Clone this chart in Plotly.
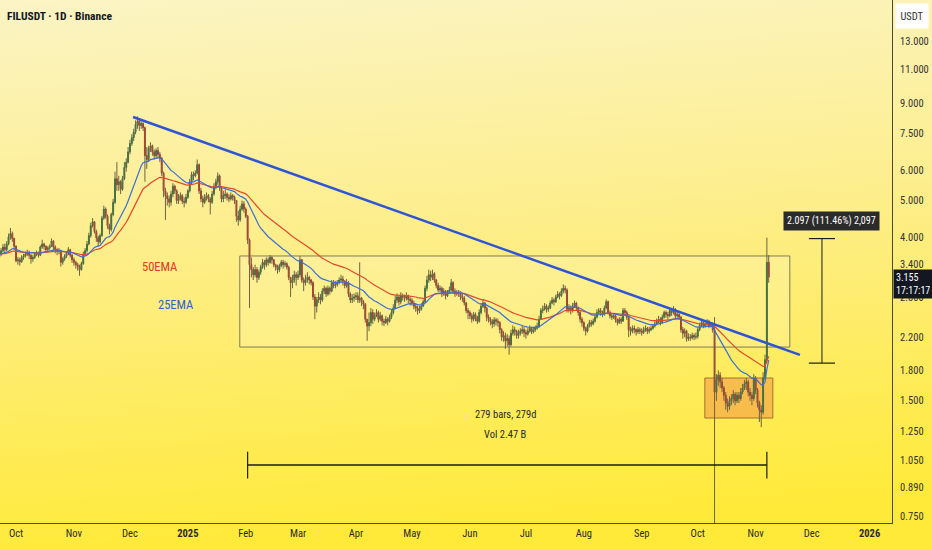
import math
import base64
import pandas as pd
import plotly.graph_objects as go

# ---------------- DATA (daily FILUSDT candles) ----------------
first_open = 3.55

close_2024_09 = [3.62, 3.70, 3.78, 3.72, 3.85, 4.02, 4.10, 3.98, 3.80]
high_2024_09 = [3.70, 3.76, 3.85, 3.86, 3.92, 4.10, 4.24, 4.15, 4.00]
low_2024_09 = [3.52, 3.58, 3.66, 3.62, 3.68, 3.82, 3.95, 3.90, 3.72]

close_2024_10 = [3.48, 3.50, 3.46, 3.55, 3.58, 3.62, 3.66, 3.60, 3.52, 3.55,
                 3.62, 3.66, 3.60, 3.78, 3.85, 3.80, 3.72, 3.76, 3.80, 3.92,
                 3.78, 3.72, 3.68, 3.70, 3.45, 3.52, 3.58, 3.64, 3.72, 3.60, 3.50]
high_2024_10 = [3.82, 3.56, 3.55, 3.60, 3.63, 3.68, 3.72, 3.70, 3.62, 3.60,
                3.66, 3.70, 3.68, 3.82, 3.95, 3.88, 3.82, 3.80, 3.84, 3.98,
                3.94, 3.82, 3.75, 3.76, 3.72, 3.56, 3.62, 3.68, 3.78, 3.74, 3.62]
low_2024_10 = [3.45, 3.40, 3.38, 3.44, 3.50, 3.55, 3.58, 3.52, 3.42, 3.46,
               3.52, 3.58, 3.55, 3.58, 3.74, 3.72, 3.65, 3.68, 3.72, 3.78,
               3.70, 3.64, 3.60, 3.62, 3.36, 3.40, 3.48, 3.54, 3.60, 3.55, 3.44]

close_2024_11 = [3.45, 3.40, 3.36, 3.30, 3.42, 3.62, 3.70, 3.85, 4.05, 4.30,
                 4.40, 4.15, 4.00, 3.90, 4.05, 4.50, 4.75, 4.55, 4.30, 4.20,
                 4.60, 4.95, 5.70, 5.50, 5.60, 5.35, 5.70, 6.10, 6.30, 6.70]
high_2024_11 = [3.55, 3.48, 3.44, 3.40, 3.46, 3.68, 3.76, 3.92, 4.12, 4.38,
                4.50, 4.42, 4.20, 4.05, 4.10, 4.56, 4.85, 4.80, 4.60, 4.35,
                4.65, 5.05, 5.95, 6.30, 5.80, 5.65, 5.80, 6.30, 6.45, 6.90]
low_2024_11 = [3.38, 3.32, 3.28, 3.18, 3.28, 3.40, 3.58, 3.66, 3.82, 4.00,
               4.25, 4.10, 3.90, 3.80, 3.86, 4.02, 4.45, 4.48, 4.22, 4.08,
               4.15, 4.55, 4.90, 5.30, 5.30, 5.20, 5.30, 5.65, 5.95, 6.25]

close_2024_12 = [7.05, 7.30, 7.55, 7.90, 8.05, 7.85, 7.95, 7.75, 6.55, 6.40,
                 6.85, 6.95, 6.70, 6.55, 6.75, 6.60, 6.45, 5.90, 5.30, 5.15,
                 5.05, 4.95, 5.20, 5.45, 5.30, 5.00, 5.05, 5.15, 4.98, 4.95, 5.10]
high_2024_12 = [7.20, 7.45, 7.70, 8.10, 8.30, 8.15, 8.05, 8.00, 7.80, 6.90,
                6.95, 7.10, 7.00, 6.80, 6.85, 6.90, 6.70, 6.50, 5.95, 5.40,
                5.25, 5.15, 5.30, 5.55, 5.50, 5.35, 5.20, 5.25, 5.20, 5.10, 5.20]
low_2024_12 = [6.60, 6.95, 7.15, 7.45, 7.70, 7.60, 7.70, 7.60, 5.60, 6.05,
               6.30, 6.70, 6.55, 6.40, 6.45, 6.45, 6.30, 5.80, 5.10, 4.45,
               4.85, 4.80, 4.85, 5.10, 5.20, 4.90, 4.90, 5.00, 4.90, 4.80, 4.90]

close_2025_01 = [5.30, 5.60, 5.85, 5.80, 5.90, 6.20, 5.30, 5.05, 4.95, 5.10,
                 5.15, 5.05, 4.95, 5.20, 5.45, 5.60, 5.80, 5.40, 5.05, 5.15,
                 5.20, 5.10, 5.05, 5.15, 5.10, 5.00, 4.55, 4.45, 4.75, 4.90, 4.75]
high_2025_01 = [5.35, 5.70, 5.95, 5.95, 6.00, 6.40, 6.25, 5.40, 5.15, 5.20,
                5.25, 5.20, 5.10, 5.30, 5.55, 5.70, 5.92, 5.85, 5.45, 5.30,
                5.35, 5.25, 5.20, 5.25, 5.20, 5.15, 5.00, 4.70, 4.85, 5.00, 4.98]
low_2025_01 = [5.05, 5.25, 5.50, 5.65, 5.75, 5.85, 5.20, 4.95, 4.80, 4.90,
               5.00, 4.95, 4.60, 4.90, 5.15, 5.35, 5.50, 5.30, 4.95, 4.95,
               5.05, 5.00, 4.95, 5.00, 5.00, 4.90, 4.40, 4.30, 4.40, 4.70, 4.65]

close_2025_02 = [4.55, 3.95, 3.40, 3.30, 3.20, 3.30, 3.15, 3.25, 3.35, 3.45,
                 3.40, 3.50, 3.45, 3.55, 3.50, 3.40, 3.35, 3.30, 3.38, 3.45,
                 3.40, 3.42, 3.35, 3.15, 3.05, 3.10, 3.20, 3.15]
high_2025_02 = [4.80, 4.58, 3.98, 3.55, 3.35, 3.40, 3.35, 3.30, 3.40, 3.52,
                3.50, 3.55, 3.55, 3.60, 3.58, 3.52, 3.42, 3.40, 3.42, 3.50,
                3.50, 3.48, 3.45, 3.38, 3.15, 3.20, 3.28, 3.25]
low_2025_02 = [4.50, 3.85, 2.62, 3.15, 3.10, 3.15, 3.05, 3.10, 3.20, 3.32,
               3.30, 3.35, 3.38, 3.42, 3.42, 3.35, 3.28, 3.22, 3.25, 3.35,
               3.32, 3.35, 3.30, 3.10, 2.80, 2.95, 3.05, 3.00]

close_2025_03 = [3.20, 3.50, 3.10, 3.05, 3.12, 3.15, 3.10, 3.05, 2.80, 2.65,
                 2.75, 2.80, 2.75, 2.90, 2.95, 2.85, 2.95, 2.90, 3.05, 3.00,
                 3.02, 3.05, 3.10, 3.12, 3.08, 3.00, 3.05, 2.85, 2.75, 2.78, 2.80]
high_2025_03 = [3.28, 3.58, 3.52, 3.15, 3.20, 3.25, 3.18, 3.12, 3.08, 2.85,
                2.80, 2.88, 2.85, 2.95, 3.00, 2.98, 3.00, 2.98, 3.10, 3.10,
                3.08, 3.10, 3.15, 3.20, 3.18, 3.10, 3.12, 3.08, 2.88, 2.85, 2.86]
low_2025_03 = [3.10, 3.15, 3.05, 2.90, 3.00, 3.05, 3.02, 3.00, 2.75, 2.45,
               2.55, 2.70, 2.68, 2.72, 2.85, 2.80, 2.82, 2.84, 2.88, 2.95,
               2.95, 2.98, 3.02, 3.05, 3.00, 2.95, 2.96, 2.80, 2.70, 2.70, 2.72]

close_2025_04 = [2.82, 2.75, 2.78, 2.72, 2.68, 2.45, 2.35, 2.40, 2.55, 2.45,
                 2.50, 2.55, 2.45, 2.50, 2.42, 2.40, 2.45, 2.42, 2.48, 2.55,
                 2.62, 2.75, 2.80, 2.72, 2.82, 2.80, 2.78, 2.82, 2.76, 2.74]
high_2025_04 = [2.88, 2.88, 3.45, 2.80, 2.75, 2.70, 2.45, 2.55, 2.62, 2.60,
                2.55, 2.60, 2.58, 2.56, 2.52, 2.46, 2.50, 2.48, 2.52, 2.60,
                2.68, 2.82, 2.86, 2.82, 2.88, 2.86, 2.84, 2.88, 2.84, 2.80]
low_2025_04 = [2.75, 2.70, 2.70, 2.65, 2.60, 2.40, 2.15, 2.28, 2.35, 2.38,
               2.42, 2.48, 2.40, 2.42, 2.36, 2.35, 2.38, 2.36, 2.40, 2.45,
               2.52, 2.60, 2.70, 2.66, 2.68, 2.74, 2.72, 2.74, 2.70, 2.66]

close_2025_05 = [2.70, 2.65, 2.62, 2.58, 2.60, 2.65, 2.72, 2.95, 3.10, 3.20,
                 3.15, 3.22, 3.10, 3.00, 2.92, 2.95, 2.85, 2.90, 2.82, 2.88,
                 2.92, 3.05, 2.90, 2.85, 2.88, 2.85, 2.80, 2.78, 2.70, 2.58, 2.55]
high_2025_05 = [2.78, 2.74, 2.70, 2.66, 2.66, 2.70, 2.76, 3.00, 3.18, 3.30,
                3.28, 3.30, 3.25, 3.12, 3.05, 3.00, 2.98, 2.95, 2.92, 2.92,
                2.98, 3.12, 3.08, 2.95, 2.92, 2.92, 2.90, 2.86, 2.82, 2.72, 2.62]
low_2025_05 = [2.66, 2.60, 2.56, 2.52, 2.54, 2.58, 2.64, 2.70, 2.90, 3.05,
               3.08, 3.10, 3.05, 2.95, 2.88, 2.88, 2.80, 2.82, 2.76, 2.80,
               2.85, 2.90, 2.85, 2.80, 2.82, 2.80, 2.75, 2.72, 2.66, 2.54, 2.45]

close_2025_06 = [2.50, 2.45, 2.52, 2.48, 2.42, 2.55, 2.65, 2.70, 2.62, 2.48,
                 2.45, 2.42, 2.38, 2.44, 2.42, 2.40, 2.30, 2.20, 2.22, 2.15,
                 2.18, 2.10, 2.25, 2.30, 2.28, 2.22, 2.25, 2.28, 2.30, 2.26]
high_2025_06 = [2.58, 2.54, 2.56, 2.55, 2.50, 2.60, 2.70, 2.76, 2.72, 2.64,
                2.52, 2.48, 2.45, 2.48, 2.47, 2.46, 2.42, 2.32, 2.28, 2.26,
                2.24, 2.22, 2.30, 2.36, 2.34, 2.30, 2.30, 2.32, 2.35, 2.34]
low_2025_06 = [2.45, 2.40, 2.42, 2.42, 2.38, 2.40, 2.52, 2.62, 2.55, 2.42,
               2.40, 2.36, 2.32, 2.34, 2.36, 2.34, 2.25, 2.15, 2.14, 2.05,
               2.08, 1.98, 2.08, 2.22, 2.22, 2.18, 2.18, 2.22, 2.24, 2.20]

close_2025_07 = [2.24, 2.28, 2.32, 2.27, 2.30, 2.32, 2.35, 2.45, 2.58, 2.60,
                 2.65, 2.60, 2.62, 2.70, 2.75, 2.72, 2.80, 2.85, 2.82, 2.90,
                 2.95, 2.92, 2.60, 2.62, 2.58, 2.65, 2.70, 2.62, 2.55, 2.45, 2.40]
high_2025_07 = [2.30, 2.32, 2.36, 2.34, 2.34, 2.36, 2.40, 2.50, 2.62, 2.66,
                2.70, 2.68, 2.66, 2.74, 2.80, 2.78, 2.84, 2.90, 2.88, 2.95,
                3.02, 3.00, 2.95, 2.68, 2.66, 2.70, 2.74, 2.72, 2.64, 2.58, 2.48]
low_2025_07 = [2.18, 2.22, 2.26, 2.24, 2.25, 2.27, 2.30, 2.33, 2.44, 2.54,
               2.58, 2.55, 2.56, 2.60, 2.68, 2.66, 2.70, 2.78, 2.76, 2.80,
               2.86, 2.86, 2.55, 2.55, 2.52, 2.55, 2.62, 2.58, 2.50, 2.40, 2.34]

close_2025_08 = [2.32, 2.28, 2.35, 2.40, 2.38, 2.42, 2.48, 2.55, 2.58, 2.56,
                 2.52, 2.62, 2.72, 2.55, 2.50, 2.48, 2.50, 2.44, 2.40, 2.45,
                 2.42, 2.58, 2.55, 2.48, 2.30, 2.28, 2.32, 2.30, 2.27, 2.30, 2.28]
high_2025_08 = [2.42, 2.34, 2.38, 2.44, 2.44, 2.46, 2.52, 2.60, 2.62, 2.62,
                2.58, 2.66, 2.76, 2.74, 2.58, 2.54, 2.54, 2.52, 2.46, 2.48,
                2.48, 2.62, 2.62, 2.58, 2.50, 2.34, 2.36, 2.36, 2.32, 2.34, 2.33]
low_2025_08 = [2.28, 2.22, 2.26, 2.33, 2.34, 2.36, 2.40, 2.46, 2.52, 2.50,
               2.48, 2.50, 2.60, 2.52, 2.46, 2.44, 2.45, 2.40, 2.36, 2.38,
               2.38, 2.42, 2.50, 2.44, 2.20, 2.22, 2.25, 2.25, 2.22, 2.24, 2.24]

close_2025_09 = [2.26, 2.30, 2.32, 2.28, 2.30, 2.32, 2.35, 2.38, 2.42, 2.45,
                 2.40, 2.48, 2.55, 2.52, 2.50, 2.58, 2.55, 2.60, 2.50, 2.52,
                 2.48, 2.30, 2.25, 2.28, 2.18, 2.20, 2.19, 2.22, 2.20, 2.21]
high_2025_09 = [2.32, 2.34, 2.36, 2.34, 2.34, 2.36, 2.38, 2.42, 2.46, 2.50,
                2.48, 2.52, 2.58, 2.58, 2.56, 2.62, 2.62, 2.65, 2.62, 2.56,
                2.54, 2.50, 2.34, 2.32, 2.30, 2.25, 2.24, 2.26, 2.25, 2.26]
low_2025_09 = [2.22, 2.24, 2.27, 2.24, 2.25, 2.28, 2.30, 2.33, 2.36, 2.39,
               2.36, 2.38, 2.46, 2.47, 2.45, 2.48, 2.50, 2.52, 2.46, 2.47,
               2.44, 2.26, 2.18, 2.20, 2.14, 2.15, 2.15, 2.17, 2.16, 2.17]

close_2025_10 = [2.30, 2.36, 2.40, 2.35, 2.38, 2.42, 2.35, 2.38, 2.30, 1.58,
                 1.70, 1.75, 1.68, 1.62, 1.55, 1.48, 1.45, 1.50, 1.52, 1.56,
                 1.50, 1.55, 1.52, 1.58, 1.62, 1.66, 1.68, 1.58, 1.55, 1.52, 1.72]
high_2025_10 = [2.33, 2.40, 2.44, 2.42, 2.40, 2.45, 2.44, 2.40, 2.40, 2.48,
                1.76, 1.80, 1.78, 1.72, 1.64, 1.58, 1.52, 1.54, 1.56, 1.60,
                1.58, 1.58, 1.58, 1.62, 1.66, 1.70, 1.72, 1.70, 1.62, 1.58, 1.76]
low_2025_10 = [2.18, 2.28, 2.34, 2.32, 2.33, 2.35, 2.32, 2.33, 2.26, 0.55,
               1.50, 1.64, 1.62, 1.58, 1.50, 1.42, 1.40, 1.42, 1.46, 1.48,
               1.46, 1.48, 1.48, 1.50, 1.56, 1.60, 1.60, 1.54, 1.50, 1.46, 1.50]

close_2025_11 = [1.60, 1.48, 1.42, 1.40, 1.72, 1.92, 3.45, 3.155]
high_2025_11 = [1.74, 1.62, 1.50, 1.46, 1.78, 1.98, 4.00, 3.60]
low_2025_11 = [1.56, 1.44, 1.32, 1.28, 1.38, 1.70, 1.88, 3.05]

month_starts = ["2024-09-22", "2024-10-01", "2024-11-01", "2024-12-01", "2025-01-01",
                "2025-02-01", "2025-03-01", "2025-04-01", "2025-05-01", "2025-06-01",
                "2025-07-01", "2025-08-01", "2025-09-01", "2025-10-01", "2025-11-01"]
month_closes = [close_2024_09, close_2024_10, close_2024_11, close_2024_12, close_2025_01,
                close_2025_02, close_2025_03, close_2025_04, close_2025_05, close_2025_06,
                close_2025_07, close_2025_08, close_2025_09, close_2025_10, close_2025_11]
month_highs = [high_2024_09, high_2024_10, high_2024_11, high_2024_12, high_2025_01,
               high_2025_02, high_2025_03, high_2025_04, high_2025_05, high_2025_06,
               high_2025_07, high_2025_08, high_2025_09, high_2025_10, high_2025_11]
month_lows = [low_2024_09, low_2024_10, low_2024_11, low_2024_12, low_2025_01,
              low_2025_02, low_2025_03, low_2025_04, low_2025_05, low_2025_06,
              low_2025_07, low_2025_08, low_2025_09, low_2025_10, low_2025_11]

# y-axis tick labels (USDT, log scale)
price_ticks = [0.75, 0.89, 1.05, 1.25, 1.5, 1.8, 2.2, 2.8, 3.4, 4.0, 5.0, 6.0, 7.5, 9.0, 11.0, 13.0]
# x-axis month ticks
month_tick_dates = ["2024-10-01", "2024-11-01", "2024-12-01", "2025-01-01", "2025-02-01",
                    "2025-03-01", "2025-04-01", "2025-05-01", "2025-06-01", "2025-07-01",
                    "2025-08-01", "2025-09-01", "2025-10-01", "2025-11-01", "2025-12-01",
                    "2026-01-01"]
month_tick_labels = ["Oct", "Nov", "Dec", "<b>2025</b>", "Feb", "Mar", "Apr", "May", "Jun",
                     "Jul", "Aug", "Sep", "Oct", "Nov", "Dec", "<b>2026</b>"]

# drawings
trend_dates = ["2024-12-02 15:00", "2025-11-24 17:00"]
trend_prices = [8.265, 1.976]
range_box_dates = ["2025-01-28 19:00", "2025-11-19 07:00"]
range_box_prices = [2.072, 3.583]
orange_box_dates = ["2025-10-04 19:00", "2025-11-10 05:00"]
orange_box_prices = [1.352, 1.720]
measure_low, measure_high = 1.881, 3.978
measure_date = "2025-12-06 12:00"
span_dates = ["2025-02-02", "2025-11-07"]
span_level = 1.0195
last_price = 3.155

# ---------------- BUILD SERIES ----------------
dates, opens, highs, lows, closes = [], [], [], [], []
prev = first_open
for ms, cs, hs, ls in zip(month_starts, month_closes, month_highs, month_lows):
    n = min(len(cs), len(hs), len(ls))
    for i, d in enumerate(pd.date_range(ms, periods=n, freq="D")):
        o, c = prev, cs[i]
        dates.append(d)
        opens.append(o)
        closes.append(c)
        highs.append(max(hs[i], o, c))
        lows.append(min(ls[i], o, c))
        prev = c


def ema(vals, n):
    a = 2.0 / (n + 1)
    out, e = [], vals[0]
    for v in vals:
        e = a * v + (1 - a) * e
        out.append(e)
    return out


ema25 = ema(closes, 25)
ema50 = ema(closes, 50)

# wick segments (drawn separately so they can have their own colour, as on TradingView)
wick_x, wick_y = [], []
for d, h, l in zip(dates, highs, lows):
    wick_x += [d, d, None]
    wick_y += [l, h, None]
body_top = [max(o, c) for o, c in zip(opens, closes)]
body_bot = [min(o, c) for o, c in zip(opens, closes)]

FONT = "Liberation Sans Narrow, Roboto Condensed, Arial Narrow, Roboto, sans-serif"
GREEN = "#1f8048"
RED = "#cc2e2b"
WICK = "#6e6344"
INK = "#1c1c1c"

fig = go.Figure()
fig.add_trace(go.Scatter(x=wick_x, y=wick_y, mode="lines", line=dict(color=WICK, width=1),
                         connectgaps=False, showlegend=False, hoverinfo="skip"))
fig.add_trace(go.Candlestick(
    x=dates, open=opens, high=body_top, low=body_bot, close=closes,
    increasing=dict(line=dict(color=GREEN, width=1), fillcolor=GREEN),
    decreasing=dict(line=dict(color=RED, width=1), fillcolor=RED),
    whiskerwidth=0, showlegend=False, hoverinfo="skip"))
fig.add_trace(go.Scatter(x=dates, y=ema50, mode="lines",
                         line=dict(color="#e5482d", width=1.2), showlegend=False, hoverinfo="skip"))
fig.add_trace(go.Scatter(x=dates, y=ema25, mode="lines",
                         line=dict(color="#3d6fd6", width=1.2), showlegend=False, hoverinfo="skip"))

# background gradient
svg = ("<svg xmlns='http://www.w3.org/2000/svg' width='932' height='550' preserveAspectRatio='none'>"
       "<defs><linearGradient id='g' x1='0' y1='0' x2='0.12' y2='1'>"
       "<stop offset='0' stop-color='#fbf4c4'/>"
       "<stop offset='0.45' stop-color='#fdee8c'/>"
       "<stop offset='1' stop-color='#ffea3a'/>"
       "</linearGradient></defs><rect width='932' height='550' fill='url(#g)'/></svg>")
bg_src = "data:image/svg+xml;base64," + base64.b64encode(svg.encode()).decode()

W, H = 932, 550
L, R, T, B = 0, 40, 0, 27
PW, PH = W - L - R, H - T - B

shapes = []
# range rectangle
shapes.append(dict(type="rect", xref="x", yref="y",
                   x0=range_box_dates[0], x1=range_box_dates[1],
                   y0=range_box_prices[0], y1=range_box_prices[1],
                   fillcolor="rgba(255,255,255,0.16)", line=dict(color="rgba(115,110,85,0.9)", width=1),
                   layer="below"))
# orange box
shapes.append(dict(type="rect", xref="x", yref="y",
                   x0=orange_box_dates[0], x1=orange_box_dates[1],
                   y0=orange_box_prices[0], y1=orange_box_prices[1],
                   fillcolor="rgba(243,160,70,0.62)", line=dict(color="rgba(150,105,45,0.9)", width=1),
                   layer="below"))
# trend line
shapes.append(dict(type="line", xref="x", yref="y",
                   x0=trend_dates[0], x1=trend_dates[1], y0=trend_prices[0], y1=trend_prices[1],
                   line=dict(color="#2f55d4", width=2.5)))
# measure (vertical)
md = pd.Timestamp(measure_date)
cap = pd.Timedelta(days=7)
shapes += [
    dict(type="line", xref="x", yref="y", x0=md, x1=md, y0=measure_low, y1=measure_high,
         line=dict(color=INK, width=1)),
    dict(type="line", xref="x", yref="y", x0=md - cap, x1=md + cap, y0=measure_low, y1=measure_low,
         line=dict(color=INK, width=1.2)),
    dict(type="line", xref="x", yref="y", x0=md - cap, x1=md + cap, y0=measure_high, y1=measure_high,
         line=dict(color=INK, width=1.2)),
    dict(type="path", xref="x", yref="y",
         path=f"M {md - pd.Timedelta(days=2)},{measure_high / 1.035} L {md},{measure_high} "
              f"L {md + pd.Timedelta(days=2)},{measure_high / 1.035}",
         line=dict(color=INK, width=1)),
]
# date span arrow (horizontal)
s0, s1 = pd.Timestamp(span_dates[0]), pd.Timestamp(span_dates[1])
shapes += [
    dict(type="line", xref="x", yref="y", x0=s0, x1=s1, y0=span_level, y1=span_level,
         line=dict(color=INK, width=1.5)),
    dict(type="line", xref="x", yref="y", x0=s0, x1=s0, y0=span_level / 1.085, y1=span_level * 1.082,
         line=dict(color=INK, width=1.2)),
    dict(type="line", xref="x", yref="y", x0=s1, x1=s1, y0=span_level / 1.085, y1=span_level * 1.082,
         line=dict(color=INK, width=1.2)),
    dict(type="path", xref="x", yref="y",
         path=f"M {s1 - pd.Timedelta(days=3.3)},{span_level * 1.056} L {s1},{span_level} "
              f"L {s1 - pd.Timedelta(days=3.3)},{span_level / 1.056}",
         line=dict(color=INK, width=1.2)),
]

lg = math.log10
annotations = [
    dict(xref="paper", yref="paper", x=5 / PW, y=1 - 16 / PH, xanchor="left", yanchor="middle",
         text="<b>FILUSDT · 1D · Binance</b>", showarrow=False,
         font=dict(family=FONT, size=11.5, color="#131722")),
    dict(xref="x", yref="y", x="2024-12-17", y=lg(3.354), text="50EMA", showarrow=False,
         font=dict(family=FONT, size=12.5, color="#e0382c")),
    dict(xref="x", yref="y", x="2024-12-25 12:00", y=lg(2.669), text="25EMA", showarrow=False,
         font=dict(family=FONT, size=12.5, color="#2f5fd8")),
    dict(xref="x", yref="y", x="2025-06-20", y=lg(1.377), text="279 bars, 279d", showarrow=False,
         font=dict(family=FONT, size=10.5, color="#2a2a2a")),
    dict(xref="x", yref="y", x="2025-06-20", y=lg(1.221), text="Vol 2.47 B", showarrow=False,
         font=dict(family=FONT, size=10.5, color="#2a2a2a")),
    dict(xref="x", yref="y", x="2025-12-11 19:00", y=lg(4.42),
         text=f"{measure_high - measure_low:.3f} (111.46%) 2,097", showarrow=False,
         bgcolor="#2b2b2b", borderpad=3, font=dict(family=FONT, size=10, color="#ffffff")),
    dict(xref="paper", yref="paper", x=912 / PW, y=1 - 16 / PH, xanchor="center", yanchor="middle",
         text="USDT", showarrow=False, bgcolor="#ffffff", width=30, height=22,
         font=dict(family=FONT, size=10.5, color="#333333")),
    dict(xref="paper", yref="y", x=893 / PW, y=lg(last_price) - 0.018, xanchor="left", yanchor="middle",
         text=f"{last_price:.3f}<br>17:17:17", showarrow=False, bgcolor="#131722", borderpad=2,
         width=34, align="left", font=dict(family=FONT, size=10, color="#ffffff")),
]

fig.update_layout(
    width=W, height=H,
    margin=dict(l=L, r=R, t=T, b=B),
    paper_bgcolor="#fdef7a", plot_bgcolor="rgba(0,0,0,0)",
    showlegend=False,
    shapes=shapes,
    annotations=annotations,
    images=[dict(source=bg_src, xref="paper", yref="paper", x=0, y=1,
                 sizex=W / PW, sizey=H / PH, xanchor="left", yanchor="top",
                 sizing="stretch", layer="below")],
    font=dict(family=FONT, size=10, color="#333333"),
)
fig.update_xaxes(
    type="date", range=["2024-09-22 10:00", "2026-01-13 00:00"],
    rangeslider=dict(visible=False), showgrid=False, zeroline=False,
    tickvals=month_tick_dates, ticktext=month_tick_labels, ticks="",
    tickfont=dict(family=FONT, size=10.5, color="#2a2a2a"),
    showline=True, linecolor="#4a4a3a", linewidth=1,
)
fig.update_yaxes(
    type="log", range=[-0.1432, 1.2228], side="right", showgrid=False, zeroline=False,
    tickvals=price_ticks, ticktext=[f"{v:.3f}" for v in price_ticks], ticks="",
    ticklabelstandoff=5,
    tickfont=dict(family=FONT, size=10.5, color="#333333"),
    showline=True, linecolor="#4a4a3a", linewidth=1,
)

fig.write_html("out.html", config={"displayModeBar": False},
               post_script="document.body.style.margin='0';document.body.style.overflow='hidden';")
